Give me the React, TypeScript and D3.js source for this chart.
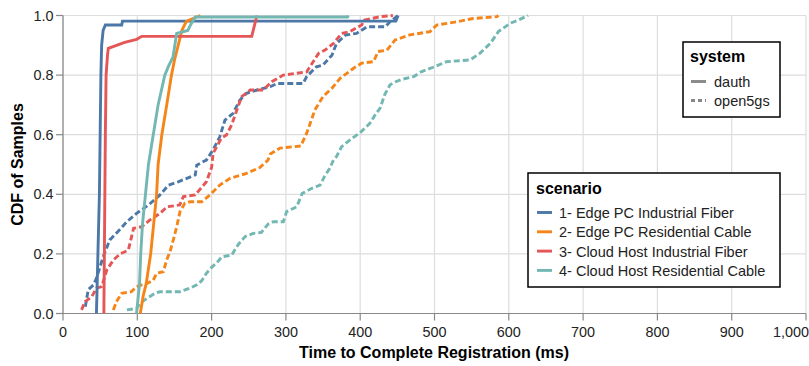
import React from "react";
import * as d3 from "d3";

type Pt = [number, number];

const xTicks = [0, 100, 200, 300, 400, 500, 600, 700, 800, 900, 1000];
const yTicks = [0, 0.2, 0.4, 0.6, 0.8, 1.0];

const scenarios = [
  "1- Edge PC Industrial Fiber",
  "2- Edge PC Residential Cable",
  "3- Cloud Host Industrial Fiber",
  "4- Cloud Host Residential Cable",
];
const systems = ["dauth", "open5gs"];
const colors = ["#4c78a8", "#f58518", "#e45756", "#72b7b2"];

// dauth (solid)
const dauth1: Pt[] = [[45,0],[47,0.2],[49,0.4],[50,0.6],[51,0.8],[52,0.9],[54,0.95],[57,0.968],[79,0.968],[80,0.981],[448,0.981],[451,1.0]];
const dauth2: Pt[] = [[104,0],[106,0.03],[108,0.06],[112,0.1],[118,0.2],[126,0.4],[128,0.5],[133,0.6],[139.6,0.7],[146,0.8],[150,0.85],[155,0.9],[160,0.95],[166,0.98],[175,0.99],[185,1.0]];
const dauth3: Pt[] = [[55,0],[56,0.3],[57,0.6],[58,0.8],[60,0.87],[61,0.89],[72,0.9],[83,0.91],[99,0.92],[106,0.93],[254,0.93],[261,1.0]];
const dauth4: Pt[] = [[99,0],[103,0.1],[104.6,0.2],[107,0.3],[111,0.4],[115,0.5],[121.5,0.6],[128,0.7],[137,0.8],[142,0.83],[148,0.86],[153,0.94],[168,0.95],[172,0.97],[178,0.995],[383,0.995],[384,1.0]];

// open5gs (dashed)
const open1: Pt[] = [[30,0.023],[34,0.08],[41,0.096],[45,0.118],[54,0.19],[63,0.247],[74,0.275],[86,0.308],[99,0.336],[115,0.364],[130.5,0.398],[142,0.431],[155,0.442],[178,0.465],[180,0.498],[193,0.515],[202,0.549],[211,0.593],[218,0.649],[229,0.672],[238,0.716],[247,0.739],[261,0.75],[279,0.761],[288,0.772],[323,0.772],[328,0.795],[341,0.828],[350,0.834],[362,0.867],[368,0.906],[380,0.934],[395,0.94],[409,0.962],[434,0.962],[440,0.979],[451,1.0]];
const open2: Pt[] = [[67.7,0.012],[72,0.04],[79,0.068],[92,0.073],[99,0.09],[106,0.096],[112.6,0.1],[121.5,0.112],[126,0.135],[135,0.14],[139.6,0.18],[144,0.207],[148.5,0.247],[153,0.291],[157.5,0.342],[164,0.37],[171,0.375],[186.7,0.375],[198,0.398],[211,0.431],[225,0.454],[247,0.47],[265,0.49],[276,0.515],[279,0.535],[292,0.555],[320,0.562],[328,0.605],[339,0.683],[350,0.728],[362,0.756],[373,0.789],[391,0.823],[402,0.84],[418,0.845],[424,0.879],[436,0.884],[447,0.918],[467,0.935],[494,0.946],[503,0.968],[530,0.979],[552,0.99],[584,0.996],[586,1.0]];
const open3: Pt[] = [[25,0.012],[29.6,0.04],[38.6,0.056],[45,0.085],[52,0.09],[59,0.146],[68,0.18],[77,0.2],[88,0.213],[95,0.286],[106,0.291],[117,0.314],[130.5,0.336],[140,0.358],[157,0.364],[162,0.392],[178,0.398],[193,0.442],[200,0.49],[202,0.537],[213,0.588],[220,0.599],[227,0.633],[234,0.683],[240.5,0.728],[252,0.75],[269.6,0.75],[281,0.778],[296.5,0.8],[328,0.811],[344,0.873],[352.6,0.884],[364,0.906],[375,0.94],[386,0.946],[402,0.968],[406,0.985],[427,0.996],[444,1.0]];
const open4: Pt[] = [[86,0.012],[99,0.017],[103.6,0.034],[112.6,0.05],[124,0.068],[130.5,0.073],[157.5,0.073],[171,0.085],[180,0.096],[186.7,0.11],[193,0.135],[200,0.155],[207,0.17],[213.6,0.19],[227,0.196],[236,0.232],[245,0.258],[256,0.269],[267,0.272],[276,0.3],[283,0.308],[296.5,0.308],[301,0.342],[314.5,0.358],[322,0.403],[335,0.42],[346,0.431],[352,0.46],[359,0.487],[364,0.515],[368,0.526],[375,0.56],[386,0.582],[400,0.607],[413,0.638],[420,0.666],[427,0.69],[433,0.735],[440,0.767],[445,0.775],[455,0.785],[472,0.795],[482,0.811],[500,0.828],[516,0.845],[548,0.851],[561,0.873],[575,0.906],[586,0.946],[602,0.974],[613,0.985],[626,1.0]];

const dauthSeries = [dauth1, dauth2, dauth3, dauth4];
const openSeries = [open1, open2, open3, open4];

const FONT = "'Liberation Sans', Arial, sans-serif";

export default function App() {
  const W = 809, H = 366;
  const x = d3.scaleLinear().domain([0, 1000]).range([63, 806]);
  const y = d3.scaleLinear().domain([0, 1]).range([313.5, 15.5]);
  const line = d3.line<Pt>().x((d) => x(d[0])).y((d) => y(d[1]));
  const fmtX = d3.format(",");
  const fmtY = d3.format(".1f");

  return (
    <svg width={W} height={H} style={{ position: "absolute", left: 0, top: 0 }} fontFamily={FONT}>
      <rect width={W} height={H} fill="#fff" />
      {/* grid */}
      {xTicks.map((t) => (
        <line key={"gx" + t} x1={x(t)} x2={x(t)} y1={y(0)} y2={y(1)} stroke="#ddd" strokeWidth={1.2} />
      ))}
      {yTicks.map((t) => (
        <line key={"gy" + t} x1={x(0)} x2={x(1000)} y1={y(t)} y2={y(t)} stroke="#ddd" strokeWidth={1.2} />
      ))}
      {/* axes */}
      <line x1={x(0)} x2={x(1000)} y1={y(0)} y2={y(0)} stroke="#888" strokeWidth={1.2} />
      <line x1={x(0)} x2={x(0)} y1={y(0)} y2={y(1)} stroke="#888" strokeWidth={1.2} />
      {xTicks.map((t) => (
        <g key={"tx" + t}>
          <line x1={x(t)} x2={x(t)} y1={y(0)} y2={y(0) + 7} stroke="#888" strokeWidth={1.2} />
          <text x={x(t)} y={337} textAnchor={t === 1000 ? "end" : "middle"} dx={t === 1000 ? 3 : 0} fontSize={14.4} fill="#222">
            {fmtX(t)}
          </text>
        </g>
      ))}
      {yTicks.map((t) => (
        <g key={"ty" + t}>
          <line x1={x(0) - 7} x2={x(0)} y1={y(t)} y2={y(t)} stroke="#888" strokeWidth={1.2} />
          <text x={53.5} y={y(t) + 5} textAnchor="end" fontSize={14.4} fill="#222">
            {fmtY(t)}
          </text>
        </g>
      ))}
      <text x={434} y={358} textAnchor="middle" fontSize={16} fontWeight="bold" fill="#000">
        Time to Complete Registration (ms)
      </text>
      <text transform={`translate(23,${y(0.5)}) rotate(-90)`} textAnchor="middle" fontSize={16} fontWeight="bold" fill="#000">
        CDF of Samples
      </text>
      {/* lines */}
      {openSeries.map((s, i) => (
        <path key={"o" + i} d={line(s) || ""} fill="none" stroke={colors[i]} strokeWidth={2.9} strokeDasharray="6,3" />
      ))}
      {dauthSeries.map((s, i) => (
        <path key={"d" + i} d={line(s) || ""} fill="none" stroke={colors[i]} strokeWidth={2.9} />
      ))}
      {/* system legend */}
      <g>
        <rect x={683} y={42} width={97} height={75} fill="#fff" stroke="#000" strokeWidth={1.5} />
        <text x={690} y={62} fontSize={16} fontWeight="bold" fill="#000">system</text>
        {systems.map((s, i) => (
          <g key={s}>
            <line x1={691} x2={706} y1={81.5 + i * 19} y2={81.5 + i * 19} stroke="#888" strokeWidth={2.9} strokeDasharray={i === 1 ? "4,3" : undefined} />
            <text x={714} y={87 + i * 19} fontSize={14.5} fill="#222">{s}</text>
          </g>
        ))}
      </g>
      {/* scenario legend */}
      <g>
        <rect x={528} y={173} width={252} height={114} fill="#fff" stroke="#000" strokeWidth={1.5} />
        <text x={536} y={194} fontSize={16} fontWeight="bold" fill="#000">scenario</text>
        {scenarios.map((s, i) => (
          <g key={s}>
            <line x1={537} x2={552} y1={212.5 + i * 19.3} y2={212.5 + i * 19.3} stroke={colors[i]} strokeWidth={2.9} />
            <text x={559} y={218 + i * 19.3} fontSize={14.5} fill="#222">{s}</text>
          </g>
        ))}
      </g>
    </svg>
  );
}
